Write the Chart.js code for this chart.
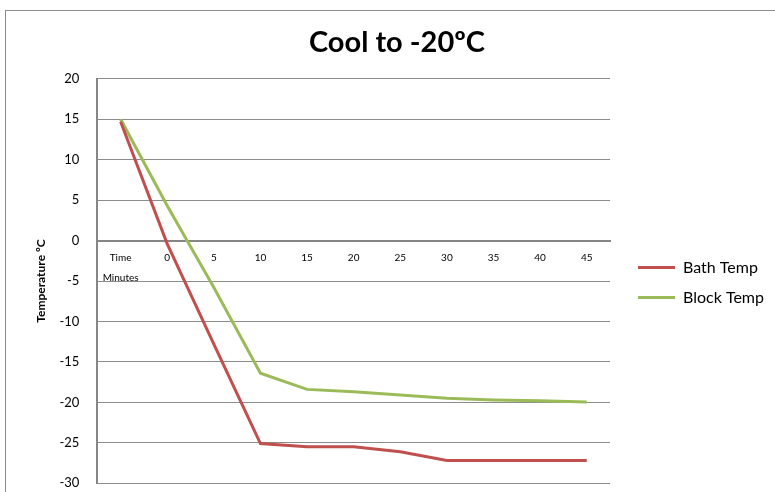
<!DOCTYPE html>
<html>
<head>
<meta charset="utf-8">
<script src="https://cdn.jsdelivr.net/npm/chart.js@4/dist/chart.umd.min.js"></script>
<style>
  html, body { margin: 0; padding: 0; background: #fff; }
  #wrap { position: relative; width: 775px; height: 492px; overflow: hidden; }
  #frame { position: absolute; left: 5px; top: 10px; width: 800px; height: 500px;
           border-left: 1px solid #8c8c8c; border-top: 1px solid #8c8c8c; }
  canvas { position: absolute; left: 0; top: 0; }
</style>
</head>
<body>
<div id="wrap">
  <div id="frame"></div>
  <canvas id="chart" width="775" height="492"></canvas>
</div>
<script>
// chart data
const timeLabels = [['Time', 'Minutes'], '0', '5', '10', '15', '20', '25', '30', '35', '40', '45'];
const bathTemp  = [14.7, -0.4, -12.8, -25.1, -25.5, -25.5, -26.1, -27.2, -27.2, -27.2, -27.2];
const blockTemp = [15.0, 4.3, -5.8, -16.4, -18.4, -18.7, -19.1, -19.5, -19.7, -19.8, -19.95];

const fontFamily = 'Lato, "Open Sans", sans-serif';

// nudge the legend away from the plot and down a bit
const legendNudge = {
  id: 'legendNudge',
  afterLayout(chart) {
    const lg = chart.legend;
    lg.left += 14;
    lg.right += 14;
    lg.top += 24;
    lg.bottom += 24;
  }
};

document.addEventListener('DOMContentLoaded', () => {
  const ctx = document.getElementById('chart').getContext('2d');

  new Chart(ctx, {
    type: 'line',
    data: {
      labels: timeLabels,
      datasets: [
        {
          label: 'Bath Temp',
          data: bathTemp,
          borderColor: '#C0504D',
          backgroundColor: '#C0504D',
          borderWidth: 3,
          pointRadius: 0,
          tension: 0
        },
        {
          label: 'Block Temp',
          data: blockTemp,
          borderColor: '#9BBB59',
          backgroundColor: '#9BBB59',
          borderWidth: 3,
          pointRadius: 0,
          tension: 0
        }
      ]
    },
    plugins: [legendNudge],
    options: {
      responsive: false,
      animation: false,
      layout: { padding: { left: 34, right: 15, top: 25, bottom: 0 } },
      scales: {
        x: {
          position: { y: 0 },
          offset: true,
          grid: { display: false, drawTicks: false },
          border: { display: true, color: '#868686', width: 2 },
          ticks: {
            color: '#000',
            padding: 7,
            maxRotation: 0,
            autoSkip: false,
            font: { family: fontFamily, size: 10, lineHeight: 2 }
          }
        },
        y: {
          min: -30,
          max: 20,
          grid: { color: '#8c8c8c', lineWidth: 1, tickLength: 17, tickColor: 'rgba(0,0,0,0)' },
          border: { display: true, color: '#868686', width: 2 },
          ticks: {
            stepSize: 5,
            color: '#000',
            padding: 1,
            font: { family: fontFamily, size: 13 }
          },
          title: {
            display: true,
            text: 'Temperature ºC',
            color: '#000',
            padding: { top: 0, bottom: 10 },
            font: { family: fontFamily, size: 12, weight: 'bold' }
          }
        }
      },
      plugins: {
        title: {
          display: true,
          text: 'Cool to -20ºC',
          color: '#000',
          padding: { top: 0, bottom: 19 },
          font: { family: fontFamily, size: 29, weight: 'bold' }
        },
        legend: {
          position: 'right',
          labels: {
            usePointStyle: true,
            pointStyle: 'line',
            pointStyleWidth: 37,
            padding: 14,
            color: '#000',
            font: { family: fontFamily, size: 16 }
          }
        },
        tooltip: { enabled: false }
      }
    }
  });
});
</script>
</body>
</html>
